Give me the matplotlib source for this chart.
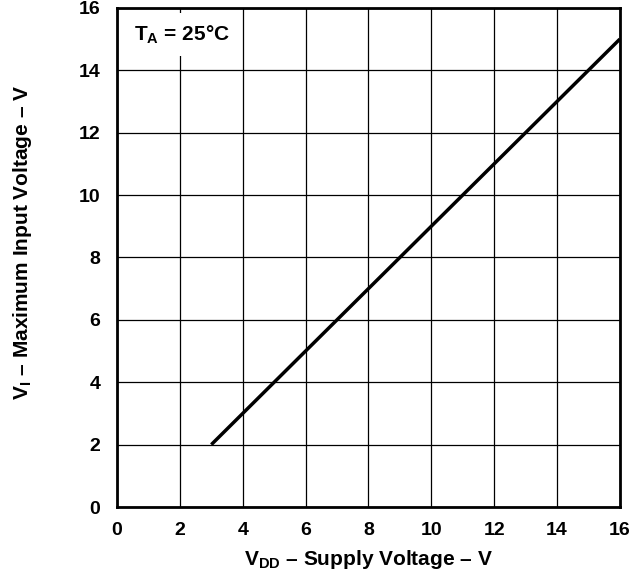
import matplotlib
matplotlib.use("Agg")
import matplotlib.pyplot as plt

# supply voltage vs max input voltage
vdd = [3, 16]
vi_max = [2, 15]
xticks = [0, 2, 4, 6, 8, 10, 12, 14, 16]
yticks = [0, 2, 4, 6, 8, 10, 12, 14, 16]

plt.rcParams['font.family'] = ['Liberation Sans', 'DejaVu Sans']
plt.rcParams['font.weight'] = 'bold'
plt.rcParams['mathtext.fontset'] = 'custom'
plt.rcParams['mathtext.bf'] = 'Liberation Sans:bold'
plt.rcParams['mathtext.rm'] = 'Liberation Sans:bold'

fig = plt.figure(figsize=(6.43, 5.77), dpi=100)
ax = fig.add_axes([0.182, 0.1213, 0.782, 0.865])

ax.plot(vdd, vi_max, color="black", linewidth=2.5, solid_capstyle="butt")

ax.set_xlim(0, 16)
ax.set_ylim(0, 16)
ax.set_xticks(xticks)
ax.set_yticks(yticks)
ax.set_xticklabels([str(t) for t in xticks], fontsize=14, fontweight="bold")
ax.set_yticklabels([str(t) for t in yticks], fontsize=14, fontweight="bold")
ax.tick_params(axis="x", length=0, pad=11)
ax.tick_params(axis="y", length=0, pad=12)
ax.grid(True, color="black", linewidth=0.9)
ax.set_axisbelow(True)
for s in ax.spines.values():
    s.set_linewidth(2)

ax.set_xlabel(r"V$_{\mathbf{DD}}$ – Supply Voltage – V", fontsize=15, fontweight="bold", labelpad=6)
ax.set_ylabel(r"V$_{\mathbf{I}}$ – Maximum Input Voltage – V", fontsize=15, fontweight="bold")
ax.yaxis.set_label_coords(-0.165, 0.53)

ax.text(0.55, 15.15, r"T$_{\mathbf{A}}$ = 25°C", fontsize=15, fontweight="bold", va="center",
        bbox=dict(facecolor="white", edgecolor="none", pad=7))

fig.savefig("out.png", dpi=100)
